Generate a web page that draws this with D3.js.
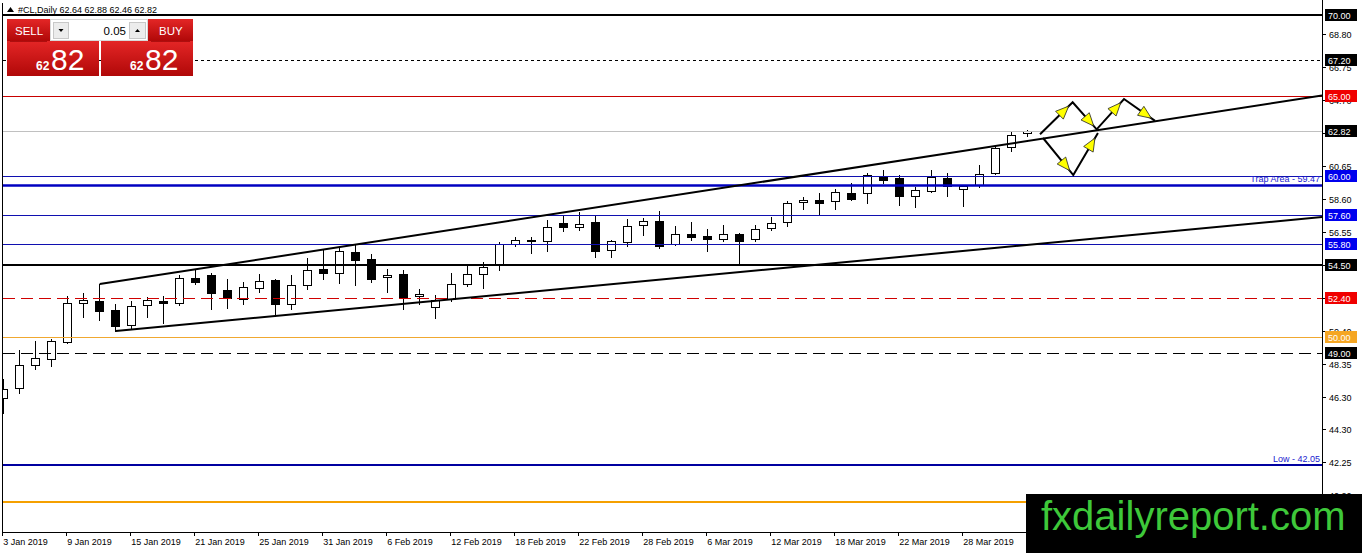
<!DOCTYPE html>
<html><head><meta charset="utf-8">
<script src="https://cdn.jsdelivr.net/npm/d3@7"></script>
<style>html,body{margin:0;padding:0;background:#fff;overflow:hidden}svg{display:block}text{font-family:"Liberation Sans",Arial,sans-serif}</style>
</head><body>
<svg id="c" width="1362" height="553"></svg>
<script>
// ---------- DATA ----------
const dates = ["3 Jan 2019","4 Jan 2019","7 Jan 2019","8 Jan 2019","9 Jan 2019","10 Jan 2019","11 Jan 2019","14 Jan 2019","15 Jan 2019","16 Jan 2019","17 Jan 2019","18 Jan 2019","21 Jan 2019","22 Jan 2019","23 Jan 2019","24 Jan 2019","25 Jan 2019","28 Jan 2019","29 Jan 2019","30 Jan 2019","31 Jan 2019",
"1 Feb 2019","4 Feb 2019","5 Feb 2019","6 Feb 2019","7 Feb 2019","8 Feb 2019","11 Feb 2019","12 Feb 2019","13 Feb 2019","14 Feb 2019","15 Feb 2019","18 Feb 2019","19 Feb 2019","20 Feb 2019","21 Feb 2019","22 Feb 2019","25 Feb 2019","26 Feb 2019","27 Feb 2019","28 Feb 2019",
"1 Mar 2019","4 Mar 2019","5 Mar 2019","6 Mar 2019","7 Mar 2019","8 Mar 2019","11 Mar 2019","12 Mar 2019","13 Mar 2019","14 Mar 2019","15 Mar 2019","18 Mar 2019","19 Mar 2019","20 Mar 2019","21 Mar 2019","22 Mar 2019","25 Mar 2019","26 Mar 2019","27 Mar 2019","28 Mar 2019","29 Mar 2019",
"1 Apr 2019","2 Apr 2019","3 Apr 2019"];
const opens  = [46.21,46.83,48.26,48.63,49.69,52.11,52.24,51.68,50.75,51.99,52.24,52.11,53.66,53.85,52.92,52.36,53.04,53.54,52.05,53.23,54.22,53.98,55.28,54.85,53.73,53.91,52.55,51.86,52.36,53.29,53.91,54.47,55.78,55.97,55.96,57.08,56.83,57.14,55.40,55.90,56.96,57.21,55.78,56.40,56.27,56.09,56.40,56.09,56.77,57.14,58.39,58.51,58.45,58.94,58.94,59.94,59.88,58.76,59.07,59.88,59.19,59.44,60.19,61.80,62.64];
const highs  = [47.39,49.19,49.75,49.88,52.55,52.73,53.29,52.05,52.24,52.49,52.55,53.85,54.16,53.98,53.60,53.42,53.91,53.60,53.85,54.91,55.40,55.59,55.71,55.16,54.22,54.16,52.98,52.61,53.98,54.41,54.66,55.90,56.21,56.21,57.27,57.58,57.76,57.52,56.03,57.33,57.39,57.83,56.89,57.14,56.71,56.96,56.46,56.96,57.45,58.45,58.70,58.94,59.19,59.57,60.19,60.37,60.06,59.32,60.37,60.19,59.40,60.68,61.86,62.73,62.88];
const lows   = [45.28,46.52,48.01,48.20,49.62,51.24,51.06,50.37,50.50,51.24,50.87,51.99,53.29,51.74,51.80,52.05,52.80,51.30,51.74,52.98,53.60,53.35,53.23,53.42,52.80,51.74,52.05,51.18,52.24,53.17,53.04,54.16,55.65,55.22,55.34,56.58,56.65,54.97,54.97,55.65,56.34,55.53,55.74,56.03,55.34,55.96,54.53,55.96,56.65,56.89,57.95,57.64,57.95,58.50,58.32,59.57,58.20,58.07,59.00,58.76,58.14,59.32,60.12,61.55,62.46];
const closes = [46.77,48.26,48.70,49.75,52.11,52.30,51.62,50.68,51.93,52.30,52.11,53.66,53.42,52.73,52.42,53.11,53.48,52.05,53.23,54.16,53.98,55.34,54.78,53.60,53.85,52.48,52.67,52.30,53.29,53.91,54.35,55.78,56.03,56.03,56.83,56.83,57.02,55.34,55.96,56.89,57.21,55.65,56.40,56.21,56.09,56.40,55.96,56.71,57.08,58.32,58.51,58.32,59.01,58.57,60.06,59.75,58.76,59.13,59.94,59.38,59.38,60.12,61.74,62.55,62.82];

const xTickLabels = ["3 Jan 2019","9 Jan 2019","15 Jan 2019","21 Jan 2019","25 Jan 2019","31 Jan 2019","6 Feb 2019","12 Feb 2019","18 Feb 2019","22 Feb 2019","28 Feb 2019","6 Mar 2019","12 Mar 2019","18 Mar 2019","22 Mar 2019","28 Mar 2019"];
const priceTicks = ["68.80","66.75","64.70","62.65","60.65","58.60","56.55","54.50","52.45","50.40","48.35","46.30","44.30","42.25","40.20"];

const levelPrices = [70.00, 67.20, 65.00, 62.82, 60.00, 59.47, 57.60, 55.80, 54.50, 52.40, 50.00, 49.00, 42.05, 39.73];
const levelTags   = ["70.00","67.20","65.00","62.82","60.00","","57.60","55.80","54.50","52.40","50.00","49.00","",""];
const levelNotes  = ["","","","","","Trap Area - 59.47","","","","","","","Low - 42.05",""];

const upperLineIdx = [6, 82.4],  upperLinePrice = [53.29, 65.00];
const lowerLineIdx = [7, 82.4],  lowerLinePrice = [50.37, 57.45];
const zigUpIdx   = [64.77, 66.81, 68.31, 70.02, 71.96], zigUpPrice   = [62.59, 64.58, 62.90, 64.78, 63.42];
const zigDownIdx = [64.96, 66.85, 68.39],               zigDownPrice = [62.36, 60.06, 62.67];

const symbolTitle = "#CL,Daily  62.64 62.88 62.46 62.82";
const lotSize = "0.05", bidBig = "82", bidSmall = "62", askBig = "82", askSmall = "62";

// ---------- STYLES (separate from data) ----------
const levelStyle = [
  {c:"#000",w:2,d:null,box:"#000"},
  {c:"#000",w:1,d:"3,3",box:"#000"},
  {c:"#c80000",w:1,d:null,box:"#f00000"},
  {c:"#c0c0c0",w:1,d:null,box:"#000"},
  {c:"#1010b0",w:1,d:null,box:"#0000ee"},
  {c:"#0000c0",w:2.5,d:null,box:null,note:"#2020d0"},
  {c:"#1010b0",w:1,d:null,box:"#0000ee"},
  {c:"#1010b0",w:1,d:null,box:"#0000ee"},
  {c:"#000",w:2,d:null,box:"#000"},
  {c:"#d00000",w:1,d:"12,6",box:"#f00000"},
  {c:"#f0a830",w:1,d:null,box:"#f5a623"},
  {c:"#000",w:1,d:"12,6",box:"#000"},
  {c:"#0000a0",w:2,d:null,box:null,note:"#2020d0"},
  {c:"#f5a000",w:2,d:null,box:null}
];

// ---------- SCALES ----------
const svg = d3.select("#c");
const L = 3, R = 1322, B = 532;
const x = d3.scaleLinear().domain([-0.2, 82.4]).range([0.5, 1322.1]);
const y = d3.scaleLinear().domain([70, 42.05]).range([15, 465]);
const cx = i => Math.floor(x(i)) + 0.5;
const ry = p => Math.round(y(p));

const defs = svg.append("defs");
defs.append("clipPath").attr("id","plot").append("rect").attr("x",L).attr("y",0).attr("width",R-L).attr("height",B);
const gr = defs.append("linearGradient").attr("id","red").attr("x1",0).attr("y1",0).attr("x2",0).attr("y2",1);
gr.append("stop").attr("offset","0%").attr("stop-color","#e42626");
gr.append("stop").attr("offset","100%").attr("stop-color","#b00808");

const plot = svg.append("g").attr("clip-path","url(#plot)");

// ---------- CANDLES ----------
const bars = dates.map((d,i)=>({i,o:opens[i],h:highs[i],l:lows[i],c:closes[i]}));
const cg = plot.append("g").attr("shape-rendering","crispEdges").selectAll("g").data(bars).join("g");
cg.append("line")
  .attr("x1",d=>cx(d.i)).attr("x2",d=>cx(d.i))
  .attr("y1",d=>ry(d.h)).attr("y2",d=>ry(d.l)+1)
  .attr("stroke","#000").attr("stroke-width",1);
cg.append("rect")
  .attr("x",d=>cx(d.i)-4).attr("width",8)
  .attr("y",d=>ry(Math.max(d.o,d.c))+0.5)
  .attr("height",d=>Math.max(ry(Math.min(d.o,d.c))-ry(Math.max(d.o,d.c)),1))
  .attr("fill",d=>d.c>=d.o?"#fff":"#000").attr("stroke","#000").attr("stroke-width",1);

// ---------- HORIZONTAL LEVELS ----------
const lv = plot.append("g").selectAll("line").data(levelPrices).join("line")
  .attr("x1",L).attr("x2",R)
  .attr("y1",(p,i)=>ry(p)+(levelStyle[i].w%2?0.5:0)).attr("y2",(p,i)=>ry(p)+(levelStyle[i].w%2?0.5:0))
  .attr("stroke",(p,i)=>levelStyle[i].c).attr("stroke-width",(p,i)=>levelStyle[i].w)
  .attr("stroke-dasharray",(p,i)=>levelStyle[i].d);

svg.append("g").selectAll("text").data(levelPrices.map((p,i)=>({p,t:levelNotes[i],s:levelStyle[i]})).filter(d=>d.t))
  .join("text").attr("x",R-2).attr("y",d=>ry(d.p)-3).attr("text-anchor","end")
  .attr("font-size",9).attr("fill",d=>d.s.note).text(d=>d.t);

// ---------- TRENDLINES ----------
const lineGen = d3.line().x(d=>x(d[0])).y(d=>y(d[1]));
plot.append("path").attr("d",lineGen(d3.zip(upperLineIdx,upperLinePrice))).attr("stroke","#000").attr("stroke-width",2).attr("fill","none");
plot.append("path").attr("d",lineGen(d3.zip(lowerLineIdx,lowerLinePrice))).attr("stroke","#000").attr("stroke-width",2).attr("fill","none");

// ---------- ZIGZAG ARROWS ----------
function zig(idx, pr){
  const pts = d3.zip(idx,pr);
  plot.append("path").attr("d",lineGen(pts)).attr("stroke","#000").attr("stroke-width",2).attr("fill","none");
  for(let k=0;k<pts.length-1;k++){
    const x0=x(pts[k][0]),y0=y(pts[k][1]),x1=x(pts[k+1][0]),y1=y(pts[k+1][1]);
    const len=Math.hypot(x1-x0,y1-y0), ux=(x1-x0)/len, uy=(y1-y0)/len;
    const tx=x0+ux*len*0.88, ty=y0+uy*len*0.88;
    const bx=tx-ux*13, by=ty-uy*13, px=-uy*5.5, py=ux*5.5;
    plot.append("path").attr("d",`M${tx},${ty}L${bx+px},${by+py}L${bx-px},${by-py}Z`)
      .attr("fill","#ffff00").attr("stroke","#222").attr("stroke-width",0.8);
  }
}
zig(zigUpIdx, zigUpPrice);
zig(zigDownIdx, zigDownPrice);

// ---------- FRAME / AXES ----------
const fr = svg.append("g").attr("shape-rendering","crispEdges");
fr.append("line").attr("x1",2.5).attr("x2",2.5).attr("y1",3).attr("y2",B).attr("stroke","#000");
fr.append("line").attr("x1",R+0.5).attr("x2",R+0.5).attr("y1",0).attr("y2",B+1).attr("stroke","#000");
fr.append("line").attr("x1",2).attr("x2",R+1).attr("y1",B+0.5).attr("y2",B+0.5).attr("stroke","#000");

// price axis ticks
const pt = svg.append("g").selectAll("g").data(priceTicks).join("g");
pt.append("line").attr("x1",R).attr("x2",R+4).attr("y1",d=>ry(+d)+0.5).attr("y2",d=>ry(+d)+0.5).attr("stroke","#000").attr("shape-rendering","crispEdges");
pt.append("text").attr("x",R+7).attr("y",d=>ry(+d)+4).attr("font-size",9).attr("fill","#000").text(d=>d);

// level tag boxes
const tg = svg.append("g").selectAll("g").data(levelPrices.map((p,i)=>({p,t:levelTags[i],s:levelStyle[i]})).filter(d=>d.t)).join("g");
tg.append("rect").attr("x",R+3).attr("y",d=>ry(d.p)-6).attr("width",32).attr("height",12).attr("fill",d=>d.s.box);
tg.append("text").attr("x",R+6).attr("y",d=>ry(d.p)+4).attr("font-size",9).attr("fill","#fff").text(d=>d.t);

// date axis
const dt = svg.append("g").selectAll("g").data(xTickLabels).join("g");
dt.append("line").attr("x1",d=>Math.round(x(dates.indexOf(d))-1.5)+0.5).attr("x2",d=>Math.round(x(dates.indexOf(d))-1.5)+0.5)
  .attr("y1",B).attr("y2",B+4).attr("stroke","#000").attr("shape-rendering","crispEdges");
dt.append("text").attr("x",d=>x(dates.indexOf(d))-0.5).attr("y",545).attr("font-size",9).attr("fill","#000").text(d=>d);

// ---------- TITLE ----------
svg.append("path").attr("d","M7,12L10.5,7L14,12Z").attr("fill","#000");
svg.append("text").attr("x",18).attr("y",12.5).attr("font-size",9).attr("fill","#000").text(symbolTitle);

// ---------- TRADE PANEL ----------
const pn = svg.append("g");
pn.append("rect").attr("x",7).attr("y",19).attr("width",43).attr("height",22).attr("fill","url(#red)");
pn.append("rect").attr("x",148).attr("y",19).attr("width",45).attr("height",22).attr("fill","url(#red)");
pn.append("rect").attr("x",7).attr("y",41).attr("width",92).attr("height",35).attr("fill","url(#red)");
pn.append("rect").attr("x",101).attr("y",41).attr("width",92).attr("height",35).attr("fill","url(#red)");
pn.append("line").attr("x1",10).attr("x2",47).attr("y1",41.5).attr("y2",41.5).attr("stroke","#8c0000").attr("opacity",0.6);
pn.append("line").attr("x1",151).attr("x2",190).attr("y1",41.5).attr("y2",41.5).attr("stroke","#8c0000").attr("opacity",0.6);
pn.append("rect").attr("x",50.5).attr("y",19.5).attr("width",97).attr("height",21).attr("fill","#fff").attr("stroke","#d8d8d8");
pn.append("rect").attr("x",53.5).attr("y",22.5).attr("width",15).attr("height",16).attr("fill","#ececec").attr("stroke","#c8c8c8");
pn.append("rect").attr("x",129.5).attr("y",22.5).attr("width",16).attr("height",16).attr("fill","#ececec").attr("stroke","#c8c8c8");
pn.append("path").attr("d","M58.5,29L63.5,29L61,32Z").attr("fill","#000");
pn.append("path").attr("d","M135,32L140,32L137.5,29Z").attr("fill","#000");
pn.append("text").attr("x",126).attr("y",35).attr("text-anchor","end").attr("font-size",11.5).attr("fill","#000").text(lotSize);
pn.append("text").attr("x",15).attr("y",35).attr("font-size",11.5).attr("fill","#fff").text("SELL");
pn.append("text").attr("x",159).attr("y",35).attr("font-size",11.5).attr("fill","#fff").text("BUY");
pn.append("text").attr("x",36).attr("y",70).attr("font-size",12).attr("font-weight","bold").attr("fill","#fff").text(bidSmall);
pn.append("text").attr("x",51).attr("y",70).attr("font-size",30).attr("fill","#fff").text(bidBig);
pn.append("text").attr("x",130).attr("y",70).attr("font-size",12).attr("font-weight","bold").attr("fill","#fff").text(askSmall);
pn.append("text").attr("x",145).attr("y",70).attr("font-size",30).attr("fill","#fff").text(askBig);

// ---------- WATERMARK ----------
svg.append("rect").attr("x",1026).attr("y",494).attr("width",336).attr("height",59).attr("fill","#000");
svg.append("text").attr("x",1041).attr("y",530).attr("font-size",40).attr("fill","#3ec83a").text("fxdailyreport.com");
</script>
</body></html>
